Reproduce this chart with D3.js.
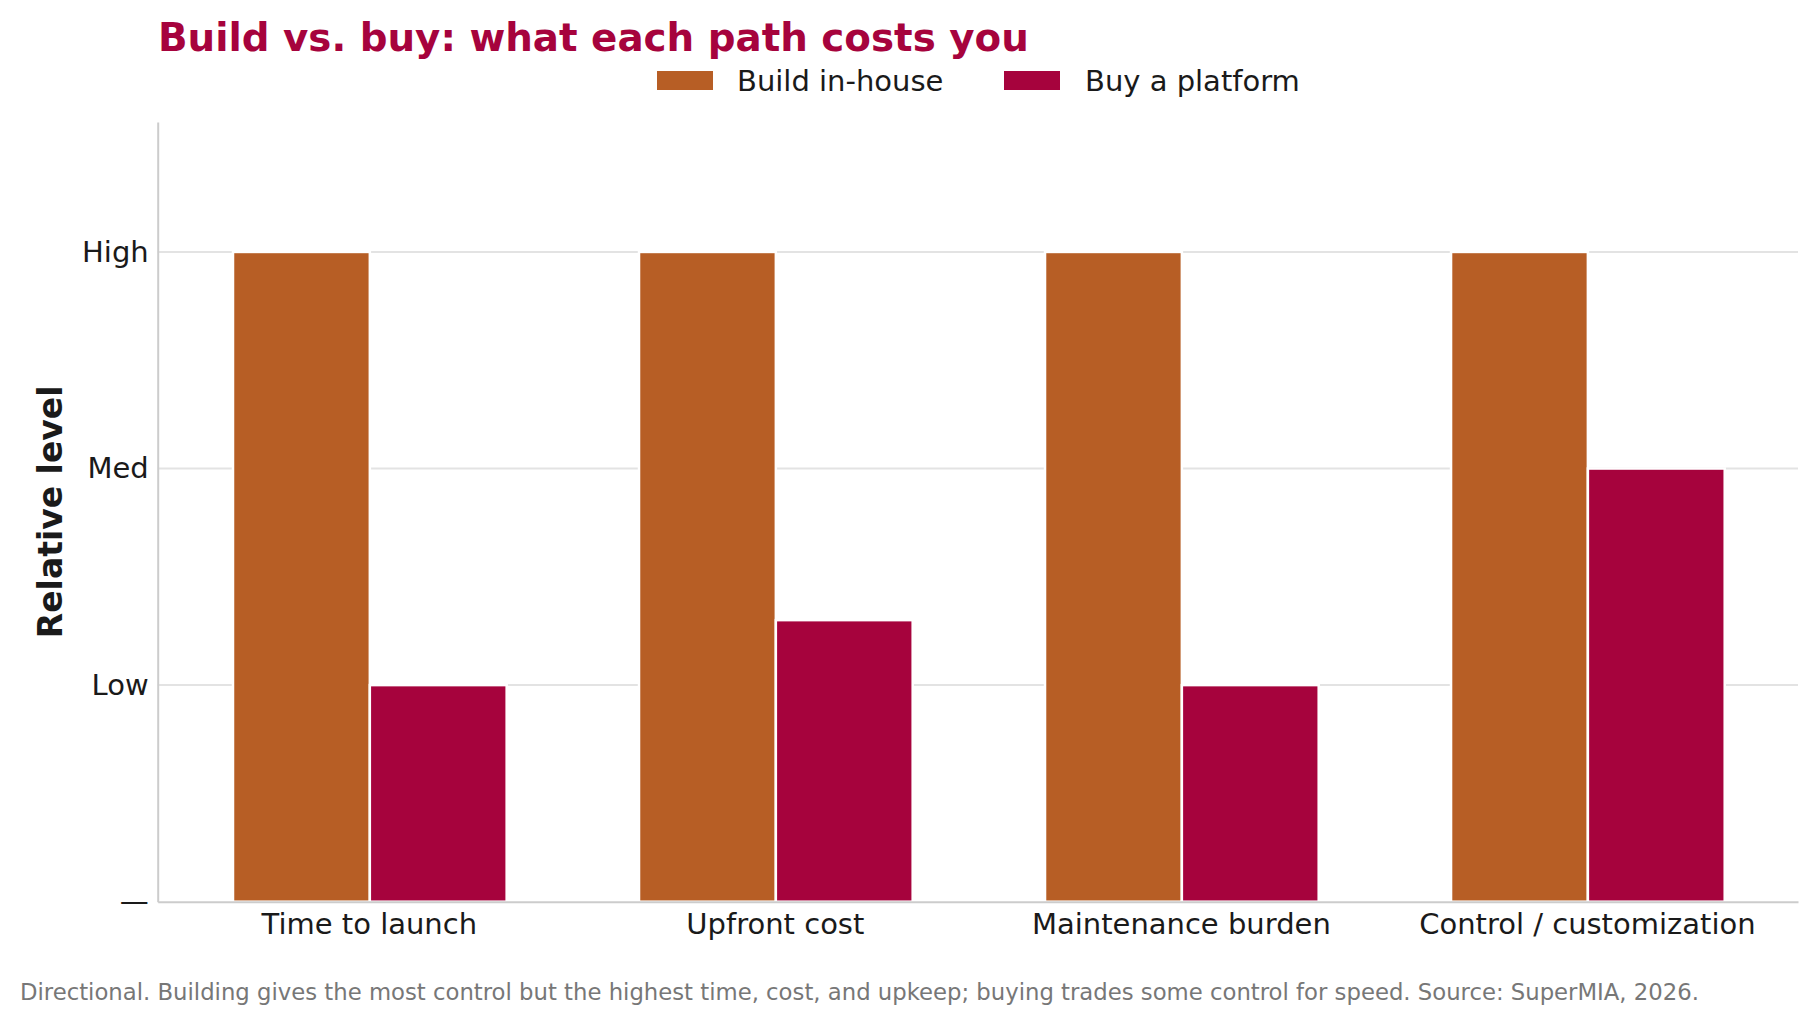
<!DOCTYPE html>
<html>
<head>
<meta charset="utf-8">
<script src="https://cdn.jsdelivr.net/npm/d3@7"></script>
<style>
  html, body { margin: 0; padding: 0; background: #fff; }
  svg { display: block; font-family: "DejaVu Sans", sans-serif; }
</style>
</head>
<body>
<svg id="chart" width="1818" height="1025"></svg>
<script>
const categories = ["Time to launch", "Upfront cost", "Maintenance burden", "Control / customization"];
const seriesNames = ["Build in-house", "Buy a platform"];
const buildValues = [3, 3, 3, 3];
const buyValues = [1, 1.3, 1, 2];
const yTickValues = [0, 1, 2, 3];
const yTickLabels = ["—", "Low", "Med", "High"];
const colors = ["#B75E25", "#A6033D"];

const svg = d3.select("#chart");
const W = 1818, H = 1025;
const plotL = 157.7, plotR = 1798, plotT = 122, plotB = 901.7;

const x = d3.scalePoint().domain(categories).range([plotL, plotR]).padding(0.52);
const y = d3.scaleLinear().domain([0, 3.6]).range([plotB, plotT]);
const step = x.step();
const barW = 0.337 * step;

// gridlines
svg.append("g").selectAll("line").data(yTickValues.filter(v => v > 0)).join("line")
  .attr("x1", plotL).attr("x2", plotR)
  .attr("y1", d => y(d)).attr("y2", d => y(d))
  .attr("stroke", "#e3e3e3").attr("stroke-width", 2);

// bars
const series = [buildValues, buyValues];
series.forEach((vals, si) => {
  svg.append("g").selectAll("rect").data(categories).join("rect")
    .attr("x", c => x(c) + (si === 0 ? -barW : 0) + 1)
    .attr("y", (c, i) => y(vals[i]))
    .attr("width", barW)
    .attr("height", (c, i) => y(0) - y(vals[i]))
    .attr("fill", colors[si])
    .attr("stroke", "#fff").attr("stroke-width", 2.5);
});

// axes
const yAxis = d3.axisLeft(y).tickValues(yTickValues).tickFormat((d, i) => yTickLabels[i]).tickSize(0).tickPadding(9);
const gy = svg.append("g").attr("transform", `translate(${plotL},0)`).call(yAxis);
gy.select(".domain").attr("stroke", "#cccccc").attr("stroke-width", 2);
gy.selectAll("text").attr("font-size", 29).attr("fill", "#1a1a1a").attr("font-family", "DejaVu Sans");

const xAxis = d3.axisBottom(x).tickSize(0).tickPadding(12);
const gx = svg.append("g").attr("transform", `translate(0,${plotB})`).call(xAxis);
gx.select(".domain").attr("stroke", "#cccccc").attr("stroke-width", 2);
gx.selectAll("text").attr("font-size", 29).attr("fill", "#1a1a1a").attr("font-family", "DejaVu Sans");

// y label
svg.append("text")
  .attr("transform", `translate(62,${(plotT + plotB) / 2}) rotate(-90)`)
  .attr("text-anchor", "middle")
  .attr("font-size", 33).attr("font-weight", "bold").attr("fill", "#1a1a1a")
  .text("Relative level");

// title
svg.append("text")
  .attr("x", 158).attr("y", 51)
  .attr("font-size", 38.8).attr("font-weight", "bold").attr("fill", "#A6033D")
  .text("Build vs. buy: what each path costs you");

// legend
const legendItems = [{ name: seriesNames[0], sx: 657, tx: 737 }, { name: seriesNames[1], sx: 1004, tx: 1085 }];
legendItems.forEach((it, i) => {
  svg.append("rect").attr("x", it.sx).attr("y", 71).attr("width", 56).attr("height", 19).attr("fill", colors[i]);
  svg.append("text").attr("x", it.tx).attr("y", 90.5).attr("font-size", 29).attr("fill", "#1a1a1a").text(it.name);
});

// footnote
svg.append("text")
  .attr("x", 20).attr("y", 1000)
  .attr("font-size", 22.75).attr("fill", "#777777")
  .text("Directional. Building gives the most control but the highest time, cost, and upkeep; buying trades some control for speed. Source: SuperMIA, 2026.");
</script>
</body>
</html>
